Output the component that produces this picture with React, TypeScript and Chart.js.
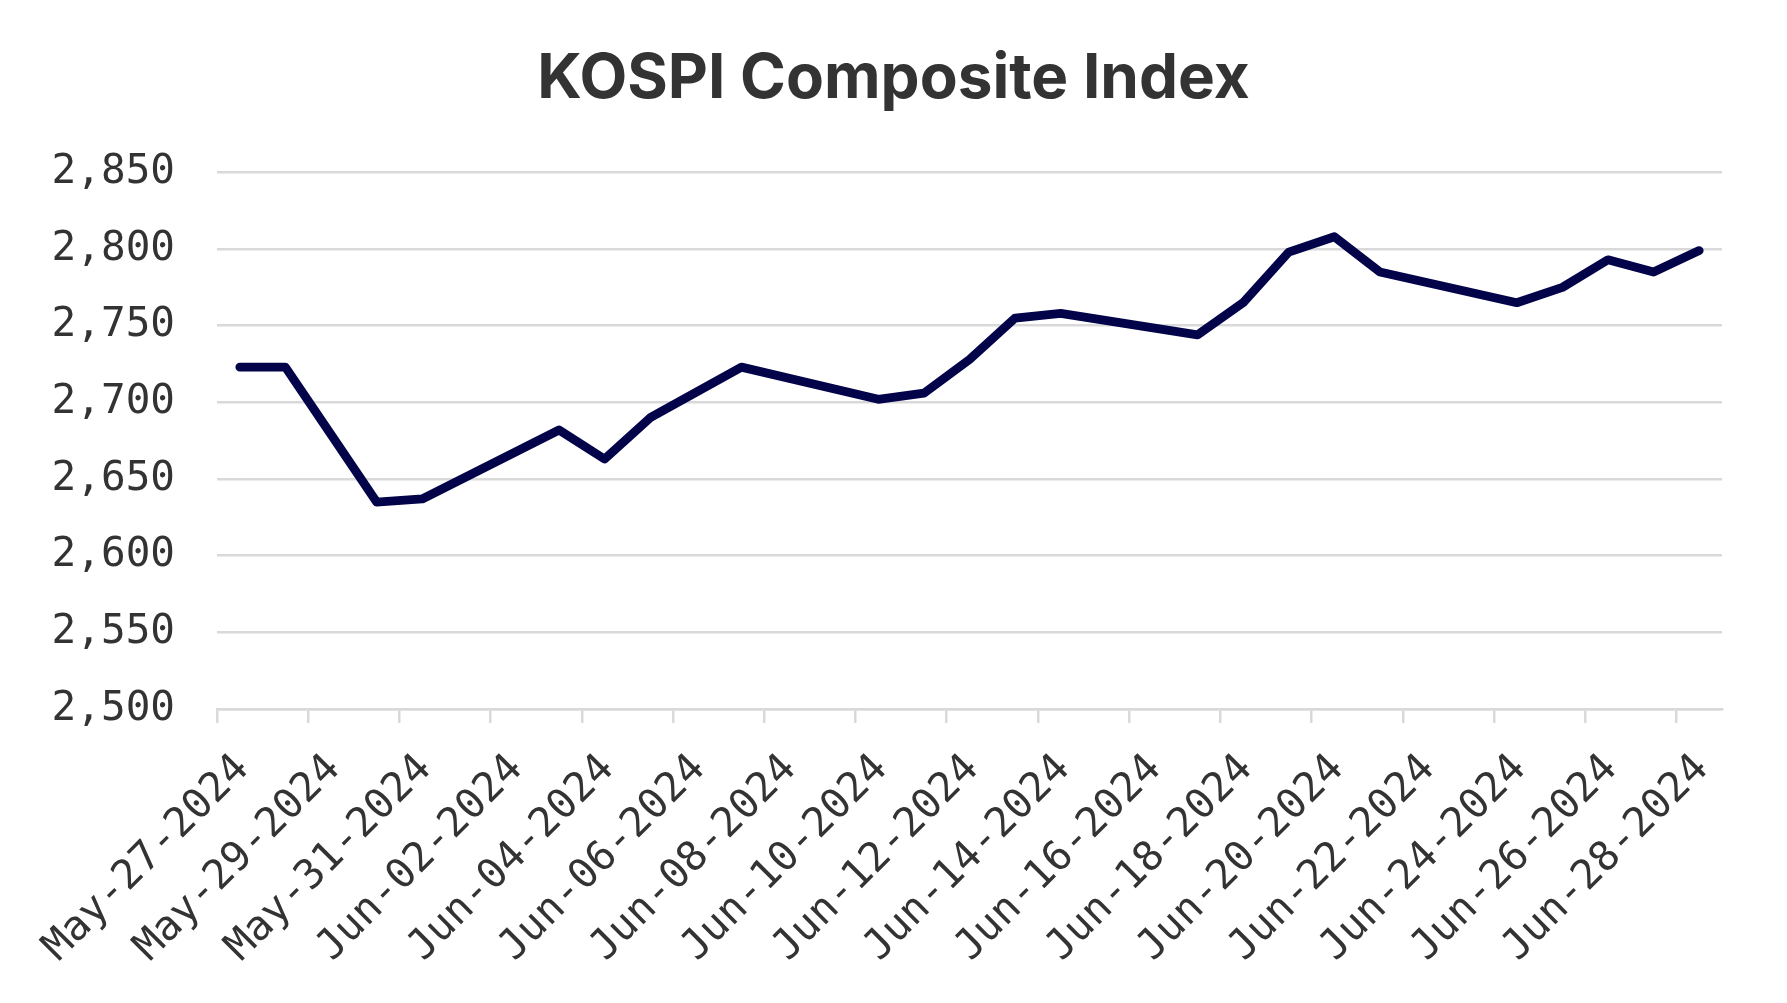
import React, { useEffect, useRef } from "react";
import { Chart, registerables } from "chart.js";

Chart.register(...registerables);

// Trading dates and KOSPI closing values
const tradeDates: string[] = [
  "2024-05-27", "2024-05-28", "2024-05-29", "2024-05-30", "2024-05-31",
  "2024-06-03", "2024-06-04", "2024-06-05", "2024-06-07",
  "2024-06-10", "2024-06-11", "2024-06-12", "2024-06-13", "2024-06-14",
  "2024-06-17", "2024-06-18", "2024-06-19", "2024-06-20", "2024-06-21",
  "2024-06-24", "2024-06-25", "2024-06-26", "2024-06-27", "2024-06-28",
];

const kospiValues: number[] = [
  2723, 2723, 2679, 2635, 2637,
  2682, 2663, 2690, 2723,
  2702, 2706, 2728, 2755, 2758,
  2744, 2765, 2798, 2808, 2785,
  2765, 2775, 2793, 2785, 2799,
];

const xTickLabels: string[] = [
  "May-27-2024", "May-29-2024", "May-31-2024", "Jun-02-2024", "Jun-04-2024",
  "Jun-06-2024", "Jun-08-2024", "Jun-10-2024", "Jun-12-2024", "Jun-14-2024",
  "Jun-16-2024", "Jun-18-2024", "Jun-20-2024", "Jun-22-2024", "Jun-24-2024",
  "Jun-26-2024", "Jun-28-2024",
];

const axisStart = "2024-05-27";
const axisDays = 33; // May-27 .. Jun-29 (exclusive end)
const tickStepDays = 2;

const yMin = 2500;
const yMax = 2850;
const yStep = 50;

const title = "KOSPI Composite Index";

const dayIndex = (d: string): number => {
  const [y, m, dd] = d.split("-").map(Number);
  const [y0, m0, d0] = axisStart.split("-").map(Number);
  return Math.round((Date.UTC(y, m - 1, dd) - Date.UTC(y0, m0 - 1, d0)) / 86400000);
};

export default function App() {
  const canvasRef = useRef<HTMLCanvasElement | null>(null);

  useEffect(() => {
    if (!canvasRef.current) return;
    const points = tradeDates.map((d, i) => ({ x: dayIndex(d) + 0.5, y: kospiValues[i] }));
    const textColor = "#333333";
    const gridColor = "#d9d9d9";
    const monoFont = "'DejaVu Sans Mono', monospace";

    const chart = new Chart(canvasRef.current, {
      type: "line",
      data: {
        datasets: [
          {
            label: "KOSPI",
            data: points,
            yAxisID: "y",
            borderColor: "#03034a",
            backgroundColor: "#03034a",
            borderWidth: 8.8,
            pointRadius: 0,
            tension: 0,
            borderCapStyle: "round",
            borderJoinStyle: "round",
          },
        ],
      },
      options: {
        animation: false,
        responsive: true,
        maintainAspectRatio: false,
        layout: { padding: 0 },
        plugins: {
          legend: { display: false },
          tooltip: { enabled: false },
          title: {
            display: true,
            text: title,
            color: textColor,
            font: { family: "Inter, 'Noto Sans', sans-serif", size: 62, weight: "bold", lineHeight: 1.2 },
            padding: { top: 42, bottom: 56 },
          },
        },
        scales: {
          x: {
            type: "linear",
            min: 0,
            max: axisDays,
            afterFit: (scale: any) => {
              scale.height = 294;
            },
            ticks: {
              stepSize: tickStepDays,
              includeBounds: false,
              autoSkip: false,
              maxRotation: 45,
              minRotation: 45,
              padding: 22,
              labelOffset: 26,
              color: textColor,
              font: { family: monoFont, size: 41 },
              callback: (v: any) => {
                const idx = Math.round(Number(v) / tickStepDays);
                return xTickLabels[idx] ?? "";
              },
            },
            grid: {
              drawOnChartArea: false,
              drawTicks: true,
              tickLength: 14,
              color: gridColor,
              lineWidth: 2.5,
            },
            border: { display: true, color: gridColor, width: 2.5 },
          },
          y: {
            min: yMin,
            max: yMax,
            afterFit: (scale: any) => {
              scale.width = 217;
            },
            ticks: {
              stepSize: yStep,
              padding: 42,
              color: textColor,
              font: { family: monoFont, size: 41 },
              callback: (v: any) => Number(v).toLocaleString("en-US"),
            },
            grid: {
              drawTicks: false,
              color: gridColor,
              lineWidth: 2.5,
            },
            border: { display: false },
          },
          yRightSpace: {
            position: "right",
            display: true,
            afterFit: (scale: any) => {
              scale.width = 65;
            },
            ticks: { display: false },
            grid: { display: false, drawTicks: false },
            border: { display: false },
          },
        },
      },
    });
    return () => chart.destroy();
  }, []);

  return (
    <div style={{ position: "fixed", left: 0, top: 0, width: "1787px", height: "1003px", background: "#ffffff" }}>
      <canvas ref={canvasRef} />
    </div>
  );
}
